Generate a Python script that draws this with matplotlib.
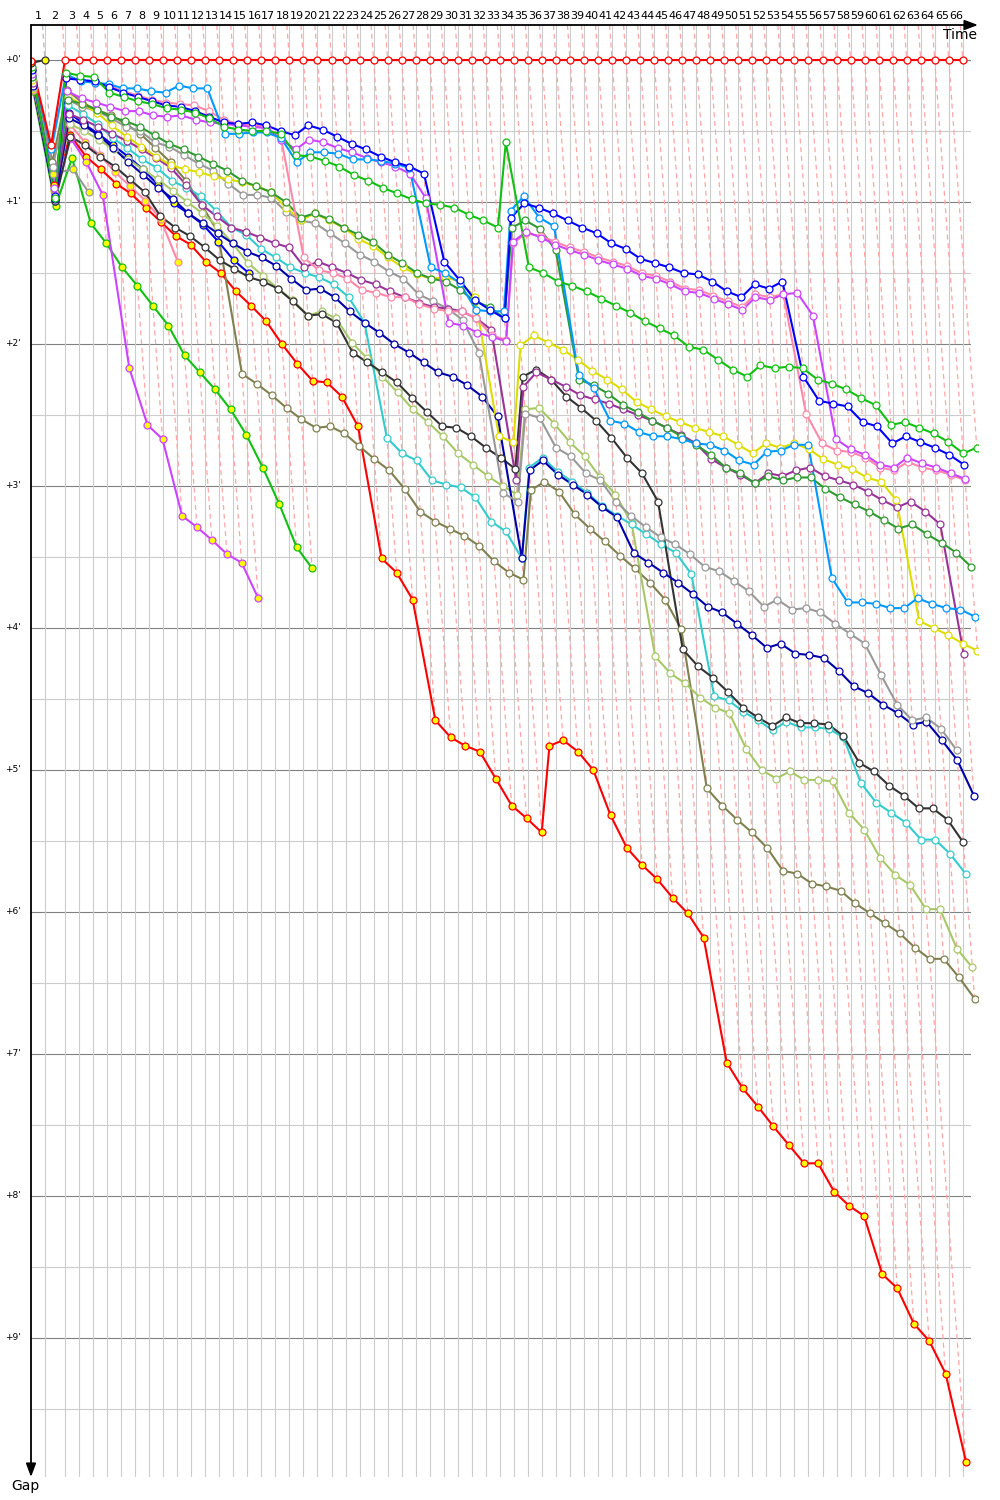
import matplotlib
matplotlib.use('Agg')
import matplotlib.pyplot as plt
import matplotlib.transforms as mtransforms
import numpy as np

# ---------------- data (gap to leader in minutes, per lap, lap 0 first) ----------------
leader_lap_min = [1.363, 1.943] + [1.366] * 64   # leader lap durations, laps 1..66

red_leader = [0.01, 0.60] + [0.0] * 65
black_y = [0.02, 0.0]
green = [0.05, 0.97, 0.09, 0.11, 0.12, 0.23, 0.26, 0.29, 0.31, 0.34, 0.35, 0.37, 0.41, 0.47, 0.49, 0.50,
         0.50, 0.52, 0.67, 0.68, 0.71, 0.75, 0.81, 0.85, 0.90, 0.94, 0.98, 1.01, 1.02, 1.04, 1.09, 1.13,
         1.18, 0.58, 1.46, 1.50, 1.56, 1.59, 1.63, 1.68, 1.73, 1.78, 1.84, 1.89, 1.94, 2.02, 2.04, 2.11,
         2.18, 2.23, 2.15, 2.17, 2.16, 2.17, 2.25, 2.28, 2.32, 2.38, 2.43, 2.57, 2.55, 2.59, 2.63, 2.69,
         2.77, 2.73]
blue = [0.07, 0.96, 0.13, 0.14, 0.15, 0.19, 0.23, 0.26, 0.29, 0.32, 0.33, 0.36, 0.40, 0.44, 0.45, 0.44,
        0.46, 0.50, 0.53, 0.46, 0.49, 0.54, 0.59, 0.63, 0.68, 0.72, 0.75, 0.80, 1.42, 1.55, 1.69, 1.76,
        1.82, 1.11, 1.01, 1.04, 1.08, 1.13, 1.18, 1.22, 1.29, 1.33, 1.40, 1.43, 1.46, 1.50, 1.51, 1.56,
        1.63, 1.67, 1.58, 1.61, 1.56, 2.23, 2.40, 2.42, 2.44, 2.55, 2.58, 2.70, 2.65, 2.69, 2.73, 2.78,
        2.85]
lightblue = [0.03, 0.63, 0.10, 0.15, 0.16, 0.17, 0.20, 0.20, 0.22, 0.23, 0.18, 0.20, 0.20, 0.52, 0.52, 0.51,
             0.51, 0.55, 0.72, 0.65, 0.65, 0.66, 0.70, 0.70, 0.71, 0.73, 0.76, 1.46, 1.50, 1.57, 1.76, 1.77,
             1.77, 1.06, 0.96, 1.11, 1.17, 2.22, 2.31, 2.54, 2.56, 2.62, 2.65, 2.65, 2.67, 2.70, 2.71, 2.75,
             2.82, 2.85, 2.76, 2.75, 2.71, 2.71, 3.65, 3.82, 3.82, 3.83, 3.86, 3.86, 3.79, 3.83, 3.86, 3.87,
             3.92]
magenta = [0.10, 0.90, 0.22, 0.27, 0.30, 0.33, 0.36, 0.36, 0.39, 0.40, 0.39, 0.42, 0.44, 0.45, 0.46, 0.47,
           0.48, 0.56, 0.63, 0.56, 0.58, 0.62, 0.65, 0.69, 0.72, 0.75, 0.80, 0.97, 1.85, 1.87, 1.92, 1.95,
           1.98, 1.28, 1.21, 1.25, 1.30, 1.34, 1.37, 1.41, 1.44, 1.47, 1.52, 1.54, 1.58, 1.63, 1.64, 1.68,
           1.72, 1.76, 1.67, 1.69, 1.65, 1.64, 1.80, 2.67, 2.74, 2.78, 2.85, 2.87, 2.80, 2.84, 2.87, 2.91,
           2.95]
pink = [0.06, 0.95, 0.12, 0.14, 0.16, 0.18, 0.22, 0.25, 0.28, 0.30, 0.31, 0.32, 0.36, 0.42, 0.45, 0.46,
        0.47, 0.55, 1.39, 1.48, 1.50, 1.54, 1.62, 1.64, 1.67, 1.67, 1.72, 1.75, 1.77, 1.77, 1.82, 1.94,
        1.97, 1.29, 1.22, 1.24, 1.28, 1.32, 1.35, 1.39, 1.42, 1.45, 1.50, 1.52, 1.56, 1.61, 1.62, 1.66,
        1.70, 1.74, 1.65, 1.67, 1.65, 2.49, 2.70, 2.75, 2.76, 2.80, 2.87, 2.89, 2.83, 2.87, 2.89, 2.92,
        2.96]
darkgreen = [0.12, 0.93, 0.28, 0.31, 0.35, 0.40, 0.43, 0.47, 0.53, 0.59, 0.63, 0.68, 0.73, 0.78, 0.85, 0.89,
             0.93, 1.00, 1.11, 1.08, 1.12, 1.18, 1.23, 1.28, 1.37, 1.43, 1.50, 1.54, 1.56, 1.62, 1.70, 1.74,
             1.82, 1.18, 1.13, 1.19, 1.34, 2.25, 2.29, 2.35, 2.43, 2.48, 2.54, 2.59, 2.65, 2.71, 2.78, 2.87,
             2.91, 2.98, 2.93, 2.96, 2.94, 2.94, 3.02, 3.08, 3.13, 3.18, 3.24, 3.30, 3.27, 3.34, 3.40, 3.47,
             3.57]
yellow = [0.14, 0.92, 0.26, 0.31, 0.37, 0.46, 0.54, 0.61, 0.68, 0.74, 0.77, 0.79, 0.82, 0.84, 0.86, 0.89,
          0.93, 1.04, 1.13, 1.08, 1.13, 1.18, 1.26, 1.31, 1.39, 1.46, 1.51, 1.54, 1.53, 1.56, 1.67, 2.65,
          2.69, 2.01, 1.94, 1.99, 2.04, 2.11, 2.19, 2.25, 2.32, 2.41, 2.46, 2.51, 2.55, 2.59, 2.62, 2.65,
          2.71, 2.77, 2.70, 2.73, 2.70, 2.74, 2.81, 2.85, 2.88, 2.94, 2.97, 3.10, 3.95, 4.00, 4.05, 4.11,
          4.16]
purple = [0.16, 0.94, 0.38, 0.42, 0.47, 0.52, 0.57, 0.63, 0.69, 0.76, 0.88, 1.02, 1.10, 1.18, 1.21, 1.25,
          1.29, 1.32, 1.46, 1.42, 1.46, 1.50, 1.55, 1.58, 1.63, 1.67, 1.71, 1.74, 1.75, 1.77, 1.82, 1.90,
          2.96, 2.30, 2.20, 2.25, 2.30, 2.36, 2.39, 2.42, 2.46, 2.50, 2.54, 2.59, 2.64, 2.70, 2.81, 2.87,
          2.92, 2.98, 2.91, 2.93, 2.89, 2.87, 2.93, 2.96, 2.99, 3.04, 3.10, 3.15, 3.11, 3.18, 3.27, 4.18]
gray = [0.12, 0.75, 0.28, 0.33, 0.36, 0.41, 0.47, 0.50, 0.58, 0.61, 0.67, 0.73, 0.78, 0.87, 0.95, 0.95,
        0.97, 1.07, 1.13, 1.15, 1.22, 1.29, 1.37, 1.42, 1.49, 1.54, 1.65, 1.70, 1.75, 1.83, 2.06, 3.05,
        3.11, 2.49, 2.52, 2.73, 2.79, 2.91, 2.96, 3.11, 3.21, 3.29, 3.36, 3.41, 3.48, 3.57, 3.60, 3.67,
        3.74, 3.85, 3.80, 3.87, 3.86, 3.89, 3.97, 4.04, 4.11, 4.33, 4.54, 4.65, 4.63, 4.71, 4.86]
darkblue = [0.18, 0.98, 0.41, 0.46, 0.53, 0.62, 0.72, 0.81, 0.90, 0.98, 1.08, 1.15, 1.22, 1.29, 1.35, 1.39,
            1.45, 1.54, 1.62, 1.61, 1.67, 1.77, 1.85, 1.92, 2.00, 2.06, 2.13, 2.20, 2.23, 2.29, 2.37, 2.51,
            3.51, 2.89, 2.82, 2.92, 2.99, 3.06, 3.15, 3.22, 3.47, 3.54, 3.61, 3.68, 3.76, 3.85, 3.89, 3.97,
            4.05, 4.14, 4.11, 4.18, 4.19, 4.21, 4.30, 4.41, 4.46, 4.54, 4.60, 4.68, 4.66, 4.79, 4.93, 5.18]
black = [0.17, 0.99, 0.54, 0.60, 0.68, 0.75, 0.84, 0.93, 1.10, 1.18, 1.24, 1.32, 1.41, 1.47, 1.53, 1.56,
         1.61, 1.70, 1.80, 1.79, 1.85, 2.06, 2.13, 2.20, 2.27, 2.38, 2.48, 2.58, 2.59, 2.65, 2.73, 2.80,
         2.88, 2.23, 2.18, 2.25, 2.37, 2.45, 2.54, 2.66, 2.80, 2.91, 3.11, 4.15, 4.27, 4.35, 4.45, 4.56,
         4.63, 4.69, 4.63, 4.67, 4.67, 4.68, 4.76, 4.95, 5.01, 5.11, 5.18, 5.27, 5.27, 5.35, 5.51]
cyan = [0.15, 0.91, 0.32, 0.38, 0.45, 0.55, 0.62, 0.70, 0.76, 0.85, 0.90, 0.96, 1.06, 1.18, 1.23, 1.33,
        1.39, 1.46, 1.50, 1.53, 1.58, 1.67, 1.85, 2.66, 2.77, 2.82, 2.96, 2.99, 3.01, 3.08, 3.25, 3.32,
        3.51, 2.87, 2.80, 2.90, 2.97, 3.05, 3.14, 3.21, 3.27, 3.34, 3.41, 3.47, 3.62, 4.48, 4.51, 4.59,
        4.65, 4.72, 4.66, 4.70, 4.70, 4.71, 4.77, 5.09, 5.23, 5.30, 5.37, 5.49, 5.49, 5.59, 5.73]
yellowgreen = [0.20, 0.95, 0.45, 0.50, 0.56, 0.63, 0.70, 0.77, 0.84, 0.92, 1.00, 1.08, 1.17, 1.29, 1.43, 1.52,
               1.61, 1.69, 1.80, 1.77, 1.82, 1.99, 2.10, 2.23, 2.34, 2.46, 2.55, 2.65, 2.77, 2.85, 2.93, 3.00,
               3.06, 2.46, 2.45, 2.56, 2.69, 2.79, 2.94, 3.06, 3.26, 4.20, 4.32, 4.39, 4.49, 4.56, 4.60, 4.85,
               5.00, 5.06, 5.01, 5.07, 5.07, 5.08, 5.30, 5.42, 5.62, 5.74, 5.81, 5.98, 5.98, 6.26, 6.39]
olive = [0.08, 0.72, 0.21, 0.30, 0.35, 0.39, 0.45, 0.52, 0.62, 0.72, 0.85, 1.02, 1.21, 2.21, 2.28, 2.36,
         2.45, 2.53, 2.59, 2.58, 2.63, 2.72, 2.81, 2.89, 3.02, 3.18, 3.25, 3.30, 3.35, 3.42, 3.53, 3.61,
         3.66, 3.03, 2.97, 3.04, 3.20, 3.30, 3.39, 3.49, 3.58, 3.68, 3.80, 4.01, 5.13, 5.25, 5.35, 5.44,
         5.55, 5.71, 5.73, 5.80, 5.82, 5.85, 5.94, 6.01, 6.08, 6.15, 6.25, 6.33, 6.33, 6.46, 6.61]
red_y = [0.13, 0.88, 0.53, 0.68, 0.77, 0.87, 0.94, 1.04, 1.14, 1.24, 1.30, 1.42, 1.50, 1.63, 1.73, 1.84,
         2.00, 2.14, 2.26, 2.27, 2.37, 2.58, 3.51, 3.61, 3.80, 4.65, 4.77, 4.83, 4.87, 5.06, 5.25, 5.34,
         5.44, 4.83, 4.79, 4.87, 5.00, 5.32, 5.55, 5.67, 5.77, 5.90, 6.01, 6.18, 7.06, 7.24, 7.37, 7.51,
         7.64, 7.77, 7.77, 7.97, 8.07, 8.14, 8.55, 8.65, 8.90, 9.02, 9.25, 9.87]
green_y = [0.22, 1.03, 0.69, 1.15, 1.29, 1.46, 1.59, 1.73, 1.87, 2.08, 2.20, 2.32, 2.46, 2.64, 2.87, 3.13,
           3.43, 3.58]
magenta_y = [0.19, 0.97, 0.55, 0.72, 0.95, 2.17, 2.57, 2.67, 3.21, 3.29, 3.38, 3.48, 3.54, 3.79]
pink_y = [0.21, 0.93, 0.45, 0.58, 0.67, 0.79, 0.89, 0.99, 1.12, 1.42]
gray_y = [0.15, 0.80, 0.77, 0.93]
blue_y = [0.11, 0.99, 0.37, 0.45, 0.52, 0.60, 0.68, 0.77, 0.88, 1.01, 1.08, 1.16, 1.28, 1.41, 1.50]

# (series, line colour, marker face)
drivers = [
    (red_y, '#ff0000', '#ffff00'),
    (green_y, '#11c011', '#ffff00'),
    (magenta_y, '#cc44ff', '#ffff00'),
    (pink_y, '#ff88aa', '#ffff00'),
    (gray_y, '#999999', '#ffff00'),
    (blue_y, '#0000ee', '#ffff00'),
    (olive, '#808050', 'white'),
    (yellowgreen, '#a8c868', 'white'),
    (cyan, '#33cccc', 'white'),
    (black, '#333333', 'white'),
    (darkblue, '#0000aa', 'white'),
    (gray, '#999999', 'white'),
    (purple, '#993399', 'white'),
    (yellow, '#dddd00', 'white'),
    (darkgreen, '#2f9a2f', 'white'),
    (pink, '#ff88aa', 'white'),
    (magenta, '#cc44ff', 'white'),
    (lightblue, '#0099ff', 'white'),
    (blue, '#0000ff', 'white'),
    (green, '#11c011', 'white'),
    (black_y, '#333333', '#ffff00'),
    (red_leader, '#ff0000', 'white'),
]

# ---------------- layout ----------------
W, H = 1000, 1500
X0, X1, Y0, Y1 = 31, 978, 25, 1477          # axes box in pixels
PX_PER_MIN_X = 10.27
PX_PER_MIN_Y = 142.0
Y_ZERO = 60

fig = plt.figure(figsize=(W / 100, H / 100), dpi=100)
ax = fig.add_axes([X0 / W, 1 - Y1 / H, (X1 - X0) / W, (Y1 - Y0) / H])
g_top = (Y0 - Y_ZERO) / PX_PER_MIN_Y
g_bot = (Y1 - Y_ZERO) / PX_PER_MIN_Y
ax.set_xlim(0, (X1 - X0) / PX_PER_MIN_X)
ax.set_ylim(g_bot, g_top)
ax.set_axis_off()

T = np.concatenate([[0.0], np.cumsum(leader_lap_min)])   # leader race time at each lap
n_laps = len(leader_lap_min)
x_grid_end = (970 - X0) / PX_PER_MIN_X

# horizontal grid
for m in range(0, 10):
    ax.plot([0, x_grid_end], [m, m], color='#808080', lw=0.8, zorder=1)
    ax.plot([0, x_grid_end], [m + 0.5, m + 0.5], color='#cccccc', lw=0.8, zorder=1)

# vertical lines at leader lap times
for k in range(1, n_laps + 1):
    ax.plot([T[k], T[k]], [g_top, g_bot], color='#cccccc', lw=0.8, zorder=1)


def lighten(c, f=0.65):
    r, g, b = matplotlib.colors.to_rgb(c)
    return (r + (1 - r) * f, g + (1 - g) * f, b + (1 - b) * f)


# dashed lap lines (same lap across drivers)
for k in range(1, n_laps + 1):
    vals = [(d[k], col) for d, col, _ in drivers if len(d) > k]
    gmax = max(v for v, _ in vals)
    lead_col = min(vals, key=lambda t: t[0])[1]
    ax.plot([T[k] + g_top, T[k] + gmax], [g_top, gmax], color=lighten(lead_col),
            lw=0.9, ls=(0, (4, 3)), zorder=2)

# drivers
for d, col, face in drivers:
    g = np.array(d)
    x = T[:len(g)] + g
    ax.plot(x, g, '-', color=col, lw=1.5, zorder=3)
    ax.plot(x, g, 'o', ms=5, mfc=face, mec=col, mew=0.9, zorder=4, ls='none')

# lap labels on top
trans_top = mtransforms.blended_transform_factory(ax.transData, ax.transAxes)
for k in range(1, n_laps + 1):
    ax.text((T[k - 1] + T[k]) / 2, 1 + 9 / (Y1 - Y0), str(k), transform=trans_top,
            ha='center', va='center', fontsize=8, clip_on=False)

# gap labels
trans_left = mtransforms.blended_transform_factory(ax.transAxes, ax.transData)
for m in range(0, 10):
    ax.text(-10 / (X1 - X0), m, "+%d'" % m, transform=trans_left, ha='right', va='center',
            fontsize=6.5, clip_on=False)

# axes arrows
arrow = dict(arrowstyle='-|>,head_length=0.8,head_width=0.3', color='black', lw=1.3,
             shrinkA=0, shrinkB=0)
fig.add_artist(matplotlib.patches.FancyArrowPatch((X0 / W, 1 - Y0 / H), (X1 / W, 1 - Y0 / H),
               transform=fig.transFigure, mutation_scale=10, **arrow))
fig.add_artist(matplotlib.patches.FancyArrowPatch((X0 / W, 1 - Y0 / H), (X0 / W, 1 - Y1 / H),
               transform=fig.transFigure, mutation_scale=10, **arrow))
fig.text(960 / W, 1 - 35 / H, 'Time', ha='center', va='center', fontsize=10)
fig.text(25 / W, 1 - 1486 / H, 'Gap', ha='center', va='center', fontsize=10)

fig.savefig('out.png', dpi=100, facecolor='white')
